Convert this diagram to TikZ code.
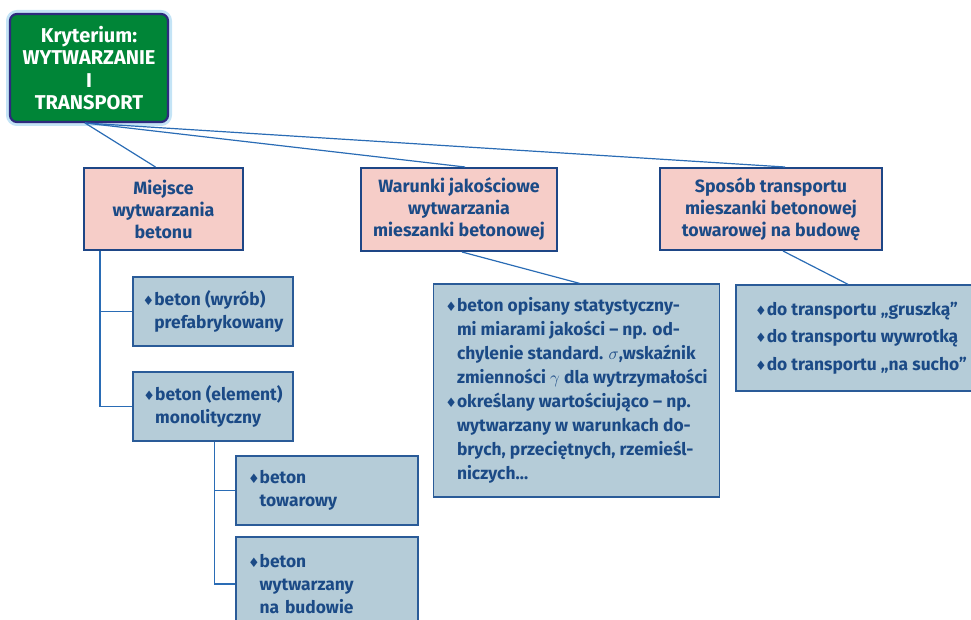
\documentclass[tikz,border=0pt]{standalone}
\usepackage{amssymb}
\usepackage{fontspec}
\setmainfont{Fira Sans}
\newfontfamily\symfont{DejaVu Sans}
\usepackage{tikz}
\definecolor{rootgreen}{HTML}{008537}
\definecolor{rootedge}{HTML}{2E2A7E}
\definecolor{glowblue}{HTML}{C4E4F6}
\definecolor{pinkfill}{HTML}{F6CDC8}
\definecolor{darkblue}{HTML}{1E4686}
\definecolor{textblue}{HTML}{1B4A86}
\definecolor{itemfill}{HTML}{B5CCD8}
\definecolor{itemedge}{HTML}{2A5B98}
\definecolor{linkblue}{HTML}{2A6CB5}
\newcommand{\dia}{{\symfont\fontsize{13}{13}\selectfont\char"2666}}
\newcommand{\ind}{\phantom{\dia}}
\tikzstyle{root} = [rectangle, draw=rootedge, line width=2.2pt, fill=rootgreen,
                 rounded corners=7pt, text=white, align=center,
                 font=\fontsize{20}{22.5}\selectfont\bfseries,
                 preaction={draw=glowblue, line width=8pt, rounded corners=9pt}]
\tikzstyle{criterion} = [rectangle, draw=darkblue, line width=2pt, fill=pinkfill,
                 text=textblue, align=center, inner sep=0pt,
                 font=\fontsize{17.8}{22}\selectfont\bfseries]
\tikzstyle{item} = [rectangle, draw=itemedge, line width=1.3pt, fill=itemfill,
                 text=textblue, align=left, inner xsep=12pt, inner ysep=0pt,
                 font=\fontsize{17.4}{23}\selectfont\bfseries]
\tikzstyle{branch} = [draw=linkblue, line width=1.2pt]

\begin{document}
\begin{tikzpicture}[x=1pt, y=-1pt]

\useasboundingbox (0,0) rectangle (971,620);
\clip (0,0) rectangle (971,620);

\node [root, minimum width=158pt, minimum height=108pt] at (89,68) (kryt)
	{Kryterium:\\WYTWARZANIE\\I\\TRANSPORT};

\node [criterion, minimum width=159pt, minimum height=82pt] at (163.5,209) (miejsce)
	{Miejsce\\wytwarzania\\betonu};
\node [criterion, minimum width=196pt, minimum height=83pt] at (459,209.5) (warunki)
	{Warunki jakościowe\\wytwarzania\\mieszanki betonowej};
\node [criterion, minimum width=222pt, minimum height=82pt] at (771,209) (sposob)
	{Sposób transportu\\mieszanki betonowej\\towarowej na budowę};

% left column
\node [item, inner xsep=8pt, minimum width=160pt, minimum height=69pt] at (213,311.5) (prefab)
	{\dia beton (wyrób)\\\ind prefabrykowany};
\node [item, inner xsep=8pt, minimum width=160pt, minimum height=69pt] at (213,406.5) (monolit)
	{\dia beton (element)\\\ind monolityczny};
\node [item, text width=158pt, minimum height=69pt] at (327,490.5) (towar)
	{\dia beton\\\ind towarowy};
\node [item, text width=158pt, minimum height=94pt] at (327,584) (budowa)
	{\dia beton\\\ind wytwarzany\\\ind na budowie};

% quality
\node [item, minimum width=285pt, minimum height=213pt,
	font=\fontsize{17.4}{24}\selectfont\bfseries] at (576.5,390.5) (warunkiopis)
	{\dia beton opisany statystyczny-\\
	\ind mi miarami jakości -- np. od-\\
	\ind chylenie standard. $\sigma$,wskaźnik\\
	\ind zmienności $\gamma$ dla wytrzymałości\\
	\dia określany wartościująco -- np.\\
	\ind wytwarzany w warunkach do-\\
	\ind brych, przeciętnych, rzemieśl-\\
	\ind niczych…};

% transport
\node [item, minimum width=250pt, minimum height=106pt,
	font=\fontsize{17.4}{27.5}\selectfont\bfseries] at (861,338) (sposobopis)
	{\dia do transportu „gruszką”\\
	\dia do transportu wywrotką\\
	\dia do transportu „na sucho”};

\coordinate (foot) at (85,123);
\path [branch] (foot) -- ([xshift=-8pt]miejsce.north);
\path [branch] (foot) -- ([xshift=6pt]warunki.north);
\path [branch] (foot) -- ([xshift=14pt]sposob.north);

\path [branch] ([xshift=17pt]miejsce.south west) |- (prefab.west);
\path [branch] ([xshift=17pt]miejsce.south west) |- (monolit.west);
\path [branch] ([xshift=82pt]monolit.south west) |- (towar.west);
\path [branch] ([xshift=82pt]monolit.south west) |- (budowa.west);

\path [branch] ([xshift=3pt]warunki.south) -- ([xshift=3pt]warunkiopis.north);
\path [branch] ([xshift=12pt]sposob.south) -- ([xshift=-13pt]sposobopis.north);

\end{tikzpicture}
\end{document}
